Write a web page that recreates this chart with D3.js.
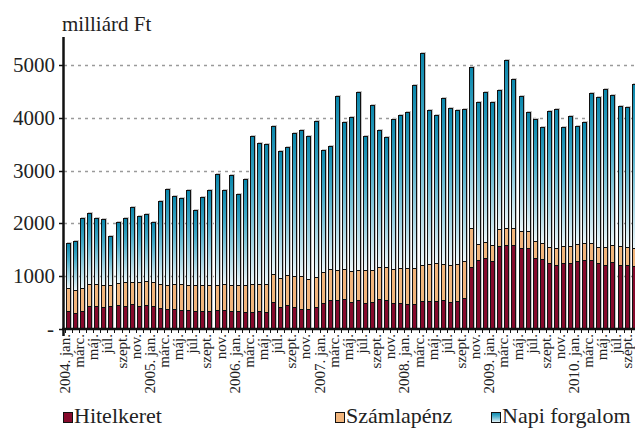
<!DOCTYPE html>
<html>
<head>
<meta charset="utf-8">
<script src="https://cdn.jsdelivr.net/npm/d3@7"></script>
<style>
  body { margin: 0; background: #fff; }
</style>
</head>
<body>
<div id="chart"></div>
<script>
var evek = [2004, 2005, 2006, 2007, 2008, 2009, 2010];
var honapok = ["jan.", "febr.", "márc.", "ápr.", "máj.", "jún.", "júl.", "aug.", "szept.", "okt.", "nov.", "dec."];
var yTicks = [0, 1000, 2000, 3000, 4000, 5000];

// milliárd Ft, 2004. jan. - 2010. szept.
var hitelkeret = [
  335, 308, 346, 425, 438, 419, 425, 460, 432, 476, 435, 460,
  440, 390, 380, 370, 365, 350, 335, 340, 340, 350, 355, 345,
  335, 325, 320, 342, 323, 505, 418, 449, 418, 380, 367, 411,
  487, 551, 544, 570, 510, 551, 494, 513, 570, 551, 481, 494,
  475, 468, 532, 519, 525, 554, 513, 525, 576, 1178, 1305, 1336,
  1282, 1564, 1586, 1583, 1542, 1532, 1349, 1321, 1248, 1212, 1257, 1255,
  1288, 1307, 1297, 1240, 1219, 1260, 1219, 1204, 1190
];
var szamlapenz = [
  432, 424, 421, 430, 415, 410, 413, 414, 463, 421, 452, 445,
  455, 465, 455, 472, 483, 485, 500, 486, 486, 479, 487, 484,
  494, 507, 528, 512, 531, 531, 552, 577, 582, 620, 578, 579,
  593, 582, 570, 563, 585, 569, 614, 607, 607, 626, 646, 664,
  671, 690, 683, 709, 716, 684, 690, 709, 715, 728, 313, 320,
  317, 323, 336, 339, 323, 323, 320, 316, 310, 314, 316, 315,
  330, 330, 333, 321, 332, 339, 351, 341, 340
];
var napiForgalom = [
  866, 926, 1328, 1341, 1242, 1253, 921, 1151, 1200, 1407, 1259, 1279,
  1130, 1563, 1811, 1671, 1627, 1804, 1418, 1668, 1807, 2114, 1791, 2089,
  1734, 2003, 2820, 2678, 2659, 2806, 2410, 2417, 2722, 2772, 2707, 2947,
  2312, 2329, 3310, 2785, 2930, 3367, 2544, 3121, 2589, 2469, 2860, 2899,
  2974, 3462, 4013, 2930, 2822, 3142, 2981, 2918, 2874, 3062, 2679, 2831,
  2698, 2645, 3186, 2825, 2553, 2265, 2318, 2186, 2581, 2639, 2250, 2462,
  2224, 2287, 2851, 2838, 2993, 2831, 2652, 2658, 3116
];
var sorok = ["Hitelkeret", "Számlapénz", "Napi forgalom"];
var szinek = ["#860a2c", "#f2b57c", "url(#napiGrad)"];

var serif = "'Liberation Serif', 'Times New Roman', 'DejaVu Serif', serif";
var width = 635, height = 434;
var margin = {left: 65, top: 39, bottom: 105};

var honapLista = [];
hitelkeret.forEach(function(v, i) {
  var ev = evek[Math.floor(i / 12)], h = i % 12;
  honapLista.push({
    i: i,
    label: h % 2 == 0 ? (h == 0 ? ev + ". " + honapok[h] : honapok[h]) : "",
    h: hitelkeret[i], s: szamlapenz[i], n: napiForgalom[i]
  });
});

var svg = d3.select("#chart").append("svg")
  .attr("width", width).attr("height", height)
  .attr("font-family", serif)
  .style("font-family", serif);

var defs = svg.append("defs");
var grad = defs.append("linearGradient").attr("id", "napiGrad")
  .attr("x1", 0).attr("y1", 0).attr("x2", 0).attr("y2", 1);
grad.append("stop").attr("offset", "0%").attr("stop-color", "#0a86ab");
grad.append("stop").attr("offset", "35%").attr("stop-color", "#45abc8");
grad.append("stop").attr("offset", "100%").attr("stop-color", "#eef7fa");

var x = d3.scaleBand()
  .domain(honapLista.map((d) => d.i))
  .range([margin.left, margin.left + 81 * 7.07])
  .paddingInner(0.3).paddingOuter(0.15);

var y = d3.scaleLinear().domain([0, 5500])
  .range([height - margin.bottom - 0.2, margin.top]);

// rács
svg.append("g").selectAll("line")
  .data(yTicks.filter((t) => t > 0))
  .enter().append("line")
  .attr("x1", 64).attr("x2", width)
  .attr("y1", (d) => Math.round(y(d)) + 0.5).attr("y2", (d) => Math.round(y(d)) + 0.5)
  .attr("stroke", "#9a9a9a").attr("stroke-width", 1.3)
  .attr("stroke-dasharray", "3,4");

var stack = d3.stack().keys(["h", "s", "n"])(honapLista);

var bw = x.bandwidth();

// árnyék
svg.append("g").selectAll("rect")
  .data(honapLista).enter().append("rect")
  .attr("x", (d) => Math.round(x(d.i)) + 1)
  .attr("y", (d) => Math.round(y(d.h + d.s + d.n)) - 1)
  .attr("width", Math.round(bw))
  .attr("height", (d) => y(0) - Math.round(y(d.h + d.s + d.n)) + 1)
  .attr("fill", "#c4c4c4");

svg.append("g").selectAll("g")
  .data(stack).enter().append("g")
  .attr("fill", (d, k) => szinek[k])
  .selectAll("rect")
  .data((d) => d).enter().append("rect")
  .attr("x", (d) => Math.round(x(d.data.i)) + 0.5)
  .attr("y", (d) => Math.round(y(d[1])) + 0.5)
  .attr("width", Math.round(bw) - 1)
  .attr("height", (d) => Math.max(0, Math.round(y(d[0])) - Math.round(y(d[1]))))
  .attr("stroke", "#111").attr("stroke-width", 1);

// x tengely
var y0 = Math.round(y(0));
var xAxis = svg.append("g").attr("transform", "translate(0," + y0 + ")");
xAxis.append("line").attr("x1", 62).attr("x2", width)
  .attr("stroke", "#111").attr("stroke-width", 2.5);
xAxis.selectAll("line.tk")
  .data(honapLista).enter().append("line").attr("class", "tk")
  .attr("x1", (d) => Math.round(x(d.i) - x.step() * x.paddingInner() / 2) + 0.5)
  .attr("x2", (d) => Math.round(x(d.i) - x.step() * x.paddingInner() / 2) + 0.5)
  .attr("y1", 0).attr("y2", 4)
  .attr("stroke", "#111").attr("stroke-width", 1);
xAxis.selectAll("text")
  .data(honapLista.filter((d) => d.label != "")).enter().append("text")
  .attr("transform", (d) => "translate(" + Math.min(x(d.i) + bw / 2 + 1.5, 632) + ",5) rotate(-90)")
  .attr("text-anchor", "end")
  .attr("fill", "#222")
  .style("font-family", serif)
  .style("font-size", "15px")
  .text((d) => d.label);

// y tengely
var yAxis = svg.append("g");
yAxis.append("line").attr("x1", 63.5).attr("x2", 63.5)
  .attr("y1", 37).attr("y2", y0 + 7)
  .attr("stroke", "#111").attr("stroke-width", 2.5);
yAxis.selectAll("line.tk").data(yTicks).enter().append("line").attr("class", "tk")
  .attr("x1", 59).attr("x2", 63)
  .attr("y1", (d) => Math.round(y(d)) + 0.5).attr("y2", (d) => Math.round(y(d)) + 0.5)
  .attr("stroke", "#111").attr("stroke-width", 1.5);
yAxis.selectAll("text").data(yTicks).enter().append("text")
  .attr("x", (d) => d == 0 ? 54 : 55)
  .attr("y", (d) => y(d) + 7)
  .attr("text-anchor", "end")
  .attr("fill", "#222")
  .style("font-family", serif)
  .style("font-size", "21px")
  .text((d) => d == 0 ? "-" : d);

svg.append("text").attr("x", 62).attr("y", 31)
  .attr("fill", "#222")
  .style("font-family", serif)
  .style("font-size", "21px").text("milliárd Ft");

// jelmagyarázat
var legX = [63, 335, 491];
var leg = svg.append("g").selectAll("g")
  .data(sorok).enter().append("g")
  .attr("transform", (d, k) => "translate(" + legX[k] + ",0)");
leg.append("rect").attr("x", 0.5).attr("y", 412.5).attr("width", 9).attr("height", 10)
  .attr("fill", (d, k) => szinek[k]).attr("stroke", "#111").attr("stroke-width", 1);
leg.append("text").attr("x", 11).attr("y", 423)
  .attr("fill", "#222")
  .style("font-family", serif)
  .style("font-size", "22px").text((d) => d);
</script>
</body>
</html>
